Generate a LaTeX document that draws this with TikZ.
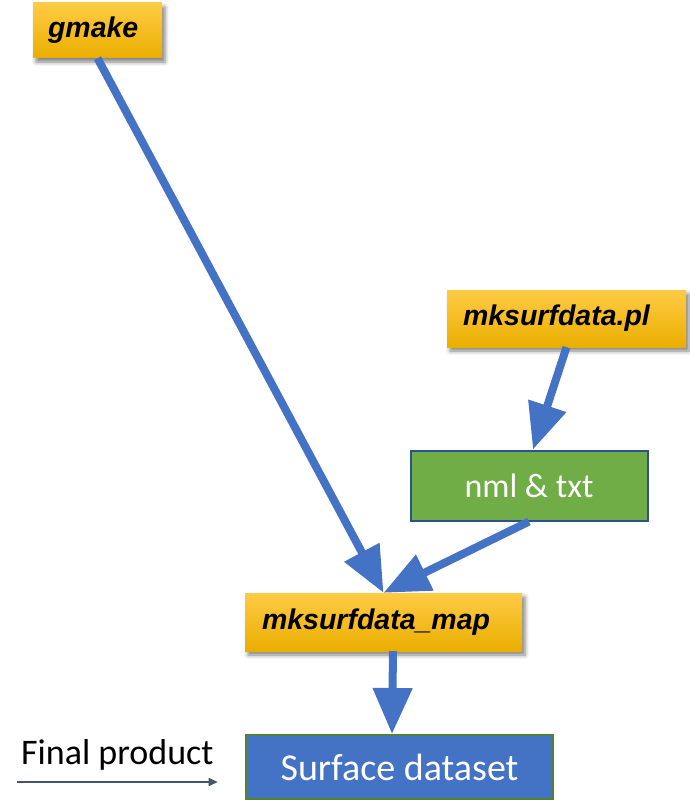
\documentclass[tikz,border=0pt]{standalone}
\usepackage{fontspec}
\usetikzlibrary{arrows.meta,shadows.blur,calc}
\newfontfamily\toolfont{Liberation Sans}
\newfontfamily\bodyfont{Carlito}
\definecolor{goldtop}{HTML}{FFCB45}
\definecolor{goldbot}{HTML}{EAAE00}
\definecolor{flowblue}{HTML}{4472C4}
\definecolor{leafgreen}{HTML}{70AD47}
\definecolor{navyline}{HTML}{2F528F}
\definecolor{darkgreen}{HTML}{548235}
\definecolor{slate}{HTML}{44546A}
\begin{document}
\begin{tikzpicture}[x=1pt,y=-1pt,
  toolbox/.style={rectangle, inner sep=0pt, top color=goldtop, bottom color=goldbot,
    blur shadow={shadow xshift=3pt, shadow yshift=-4pt, shadow blur radius=4pt, shadow opacity=50}},
  tooltext/.style={anchor=west, inner sep=0pt, font=\toolfont\bfseries\itshape\fontsize{28.5}{32}\selectfont},
  filebox/.style={rectangle, inner sep=0pt, fill=leafgreen, draw=navyline, line width=2pt},
  productbox/.style={rectangle, inner sep=0pt, fill=flowblue, draw=darkgreen, line width=2pt},
  flow/.style={draw=flowblue, line width=8pt, -{Triangle[length=46pt,width=38pt]}},
  legendarrow/.style={draw=slate, line width=1.5pt, -{Triangle[length=9pt,width=8pt]}}
]
\useasboundingbox (0,0) rectangle (690,800);

% tool boxes
\node[toolbox, minimum width=129pt, minimum height=55pt] (gmake) at (97.5,30.5) {};
\node[tooltext] at ($(gmake.west)+(15,0)$) {gmake};

\node[toolbox, minimum width=239pt, minimum height=57pt] (pl) at (566.5,318.5) {};
\node[tooltext] at ($(pl.west)+(16,0)$) {mksurfdata.pl};

\node[toolbox, minimum width=277pt, minimum height=58pt] (map) at (383.5,622) {};
\node[tooltext] at ($(map.west)+(17,0)$) {mksurfdata\_map};

% namelist and text files
\node[filebox, minimum width=237pt, minimum height=70pt, text=white,
  font=\bodyfont\fontsize{34}{40}\selectfont] (nml) at (529,485.5) {nml \& txt};

% final product
\node[productbox, minimum width=307pt, minimum height=64pt, text=white,
  font=\bodyfont\fontsize{38}{44}\selectfont] (surf) at (399.5,767) {Surface dataset};

% flow arrows
\draw[flow] (gmake.south) -- (map.north);
\draw[flow] (pl.south) -- ($(nml.north)+(4,0)$);
\draw[flow] (nml.south) -- (map.north);
\draw[flow] ($(map.south)+(9.5,0)$) -- ($(surf.north)+(-7.5,0)$);

% legend
\node[anchor=west, inner sep=0pt, font=\bodyfont\fontsize{36}{42}\selectfont] (legend) at (21,755) {Final product};
\coordinate (legstart) at (17,782);
\draw[legendarrow] (legstart) -- ($(legstart -| legend.east)+(4,0)$);
\end{tikzpicture}
\end{document}
